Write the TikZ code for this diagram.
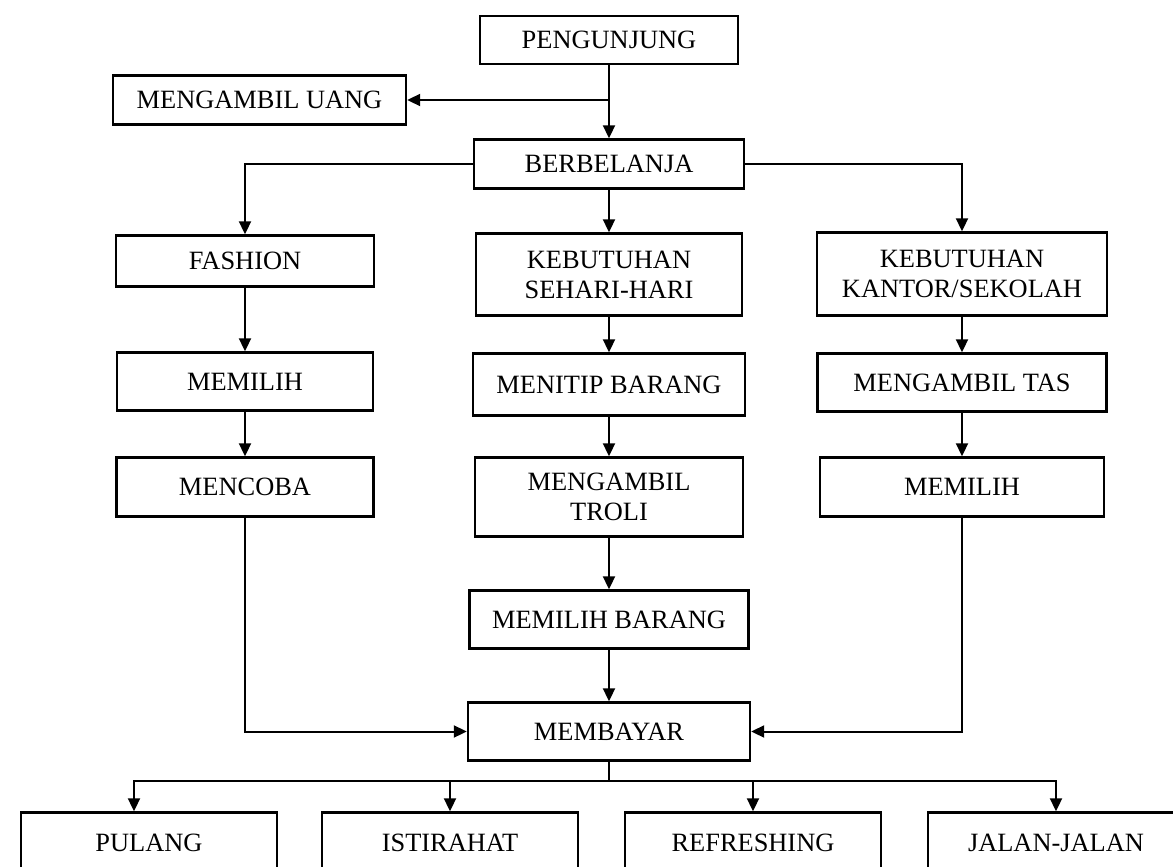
\documentclass[tikz,border=0pt]{standalone}
\usepackage{fontspec}
\setmainfont{Liberation Serif}
\usetikzlibrary{positioning,arrows.meta}

\tikzset{
  box/.style={draw,line width=2.4pt,align=center,inner sep=2pt,
    font=\fontsize{26.4}{30}\selectfont},
  endbox/.style={box,minimum width=256pt,minimum height=60pt},
}

\begin{document}
\begin{tikzpicture}[x=1pt,y=-1pt,node distance=110pt,on grid,
    >={Triangle[length=13pt,width=12pt]},line width=2pt]
      \path[use as bounding box] (0,0) rectangle (1173,867);
      \clip (0,0) rectangle (1173,867);

      \node[box,minimum width=258pt,minimum height=48pt] (peng) at (609,40) {PENGUNJUNG};
      \node[box,minimum width=293pt,minimum height=49pt] (uang) [below left=60pt and 349.5pt of peng] {MENGAMBIL UANG};
      \node[box,minimum width=270pt,minimum height=49pt] (belanja) [below=124pt of peng] {BERBELANJA};

      \node[box,minimum width=258pt,minimum height=51pt] (fashion) [below left=97pt and 364pt of belanja] {FASHION};
      \node[box,minimum width=256pt,minimum height=58pt] (memilih1) [below=120.5pt of fashion] {MEMILIH};
      \node[box,minimum width=257pt,minimum height=59pt] (mencoba) [below=105.5pt of memilih1] {MENCOBA};

      \node[box,minimum width=266pt,minimum height=82pt] (sehari) [below=110.5pt of belanja] {KEBUTUHAN\\SEHARI-HARI};
      \node[box,minimum width=272pt,minimum height=62pt] (titip) [below=110pt of sehari] {MENITIP BARANG};
      \node[box,minimum width=268pt,minimum height=79pt] (troli) [below=112.5pt of titip] {MENGAMBIL\\TROLI};
      \node[box,minimum width=279pt,minimum height=58pt] (barang) [below=122.5pt of troli] {MEMILIH BARANG};
      \node[box,minimum width=282pt,minimum height=58pt] (bayar) [below=112pt of barang] {MEMBAYAR};

      \node[box,minimum width=290pt,minimum height=83pt] (kantor) [below right=110pt and 353pt of belanja] {KEBUTUHAN\\KANTOR/SEKOLAH};
      \node[box,minimum width=289pt,minimum height=58pt] (tas) [below=108.5pt of kantor] {MENGAMBIL TAS};
      \node[box,minimum width=284pt,minimum height=59pt] (memilih2) [below=104.5pt of tas] {MEMILIH};

      \node[endbox] (pulang) [below left=111pt and 460pt of bayar] {PULANG};
      \node[endbox] (istirahat) [right=301pt of pulang] {ISTIRAHAT};
      \node[endbox] (refresh) [right=303pt of istirahat] {REFRESHING};
      \node[endbox] (jalan) [right=303pt of refresh] {JALAN-JALAN};

      \coordinate (ambil) at (peng |- uang);
      \coordinate (split) at ([yshift=-19pt]bayar.south);

      \path[->]
        (peng) edge (belanja)
        (belanja) edge (sehari)
        (sehari) edge (titip)
        (titip) edge (troli)
        (troli) edge (barang)
        (barang) edge (bayar)
        (fashion) edge (memilih1)
        (memilih1) edge (mencoba)
        (kantor) edge (tas)
        (tas) edge (memilih2);

      \draw[->] (ambil) -- (uang);
      \draw[->] (belanja.west) -| (fashion.north);
      \draw[->] (belanja.east) -| (kantor.north);
      \draw[->] (mencoba.south) |- (bayar.west);
      \draw[->] (memilih2.south) |- (bayar.east);

      \draw (bayar.south) -- (split);
      \draw[->] (split) -| ([xshift=-15pt]pulang.north);
      \draw[->] (split) -| (istirahat.north);
      \draw[->] (split) -| (refresh.north);
      \draw[->] (split) -| (jalan.north);
    \end{tikzpicture}
\end{document}
